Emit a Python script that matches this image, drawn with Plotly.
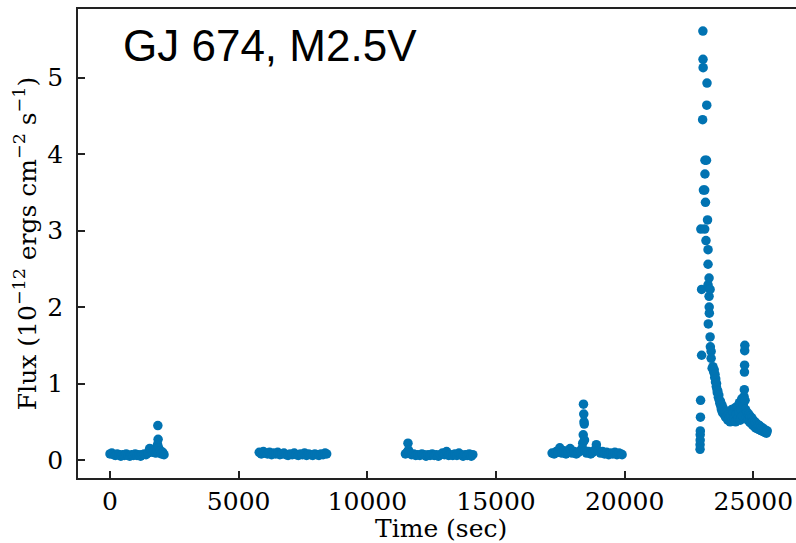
import plotly.graph_objects as go

# ---- data (time in sec, flux in 1e-12 ergs cm^-2 s^-1) ----
t1 = [0, 70, 140, 210, 280, 350, 420, 490, 560, 630, 700, 770, 840, 910, 980,
      1050, 1120, 1190, 1260, 1330, 1400, 1470, 1540, 1600, 1660, 1720, 1780,
      1830, 1850, 1860, 1870, 1890, 1920, 1960, 2000, 2050, 2100]
f1 = [0.08, 0.09, 0.07, 0.06, 0.08, 0.07, 0.05, 0.07, 0.06, 0.08, 0.06, 0.05,
      0.07, 0.06, 0.08, 0.06, 0.07, 0.05, 0.07, 0.08, 0.07, 0.09, 0.15, 0.14,
      0.10, 0.12, 0.09, 0.13, 0.20, 0.45, 0.27, 0.16, 0.10, 0.12, 0.08, 0.10, 0.07]

t2 = [5800, 5880, 5960, 6040, 6120, 6200, 6280, 6360, 6440, 6520, 6600, 6680,
      6760, 6840, 6920, 7000, 7080, 7160, 7240, 7320, 7400, 7480, 7560, 7640,
      7720, 7800, 7880, 7960, 8040, 8120, 8200, 8280, 8360, 8420]
f2 = [0.10, 0.08, 0.11, 0.09, 0.08, 0.10, 0.07, 0.09, 0.08, 0.10, 0.07, 0.08,
      0.09, 0.07, 0.06, 0.08, 0.07, 0.09, 0.07, 0.06, 0.08, 0.07, 0.09, 0.06,
      0.08, 0.07, 0.06, 0.08, 0.07, 0.06, 0.08, 0.07, 0.09, 0.08]

t3 = [11480, 11540, 11580, 11600, 11640, 11720, 11800, 11880, 11960, 12040,
      12120, 12200, 12280, 12360, 12440, 12520, 12600, 12680, 12760, 12840,
      12920, 13000, 13080, 13160, 13240, 13320, 13400, 13480, 13560, 13640,
      13720, 13800, 13880, 13960, 14040, 14100]
f3 = [0.08, 0.10, 0.22, 0.13, 0.09, 0.07, 0.08, 0.06, 0.07, 0.06,
      0.08, 0.07, 0.05, 0.07, 0.06, 0.08, 0.06, 0.07, 0.05, 0.07,
      0.09, 0.07, 0.11, 0.06, 0.07, 0.06, 0.08, 0.06, 0.09, 0.07,
      0.05, 0.07, 0.06, 0.08, 0.05, 0.07]

t4 = [17180, 17260, 17340, 17420, 17480, 17560, 17640, 17720, 17800, 17880,
      17960, 18040, 18120, 18200, 18280, 18340, 18370, 18390, 18400, 18410,
      18420, 18430, 18440, 18460, 18520, 18600, 18680, 18760, 18840, 18900,
      18980, 19060, 19140, 19220, 19300, 19380, 19460, 19540, 19620, 19700,
      19780, 19860, 19900]
f4 = [0.09, 0.08, 0.11, 0.10, 0.16, 0.09, 0.12, 0.08, 0.10, 0.15,
      0.09, 0.11, 0.08, 0.10, 0.12, 0.15, 0.22, 0.33, 0.73, 0.60,
      0.50, 0.47, 0.26, 0.12, 0.09, 0.11, 0.08, 0.10, 0.13, 0.20,
      0.12, 0.09, 0.11, 0.08, 0.10, 0.07, 0.09, 0.08, 0.10, 0.07,
      0.09, 0.08, 0.07]

t5 = [22930, 22930, 22935, 22935, 22940, 22945, 22950, 22960, 22990, 22990,
      23030, 23040, 23045, 23050, 23060, 23110, 23110, 23120, 23120, 23140,
      23160, 23180, 23190, 23200, 23220, 23240, 23240, 23240, 23250, 23280,
      23280, 23285, 23290, 23320, 23320, 23330, 23360, 23360, 23400, 23430,
      23460, 23480, 23500, 23510, 23530, 23540, 23560, 23570, 23590, 23600,
      23620, 23640, 23660, 23680, 23700, 23720, 23740, 23760, 23780, 23800,
      23830, 23860, 23890, 23920, 23950, 23980, 24010, 24040, 24070, 24100,
      24130, 24160, 24190, 24220, 24250, 24280, 24310, 24340, 24370, 24400,
      24430, 24460, 24490, 24520, 24550, 24580, 24610, 24640, 24650, 24655,
      24660, 24665, 24670, 24680, 24700, 24730, 24760, 24790, 24820, 24850,
      24880, 24910, 24940, 24970, 25000, 25030, 25060, 25090, 25120, 25150,
      25180, 25210, 25240, 25270, 25300, 25330, 25360, 25390, 25420, 25450,
      25480, 25510, 25540]
f5 = [0.14, 0.20, 0.26, 0.33, 0.38, 0.56, 0.78, 3.02, 1.37, 2.23,
      4.45, 5.61, 5.24, 5.13, 3.53, 3.53, 3.02, 3.74, 3.92, 3.37,
      2.87, 3.92, 4.64, 4.93, 3.14, 2.75, 2.56, 2.29, 1.78, 2.38,
      2.14, 2.00, 1.92, 2.23, 1.61, 1.48, 1.42, 1.33, 1.20, 1.22,
      1.15, 1.18, 1.08, 1.12, 1.02, 1.06, 0.96, 1.00, 0.92, 0.88,
      0.90, 0.82, 0.85, 0.78, 0.74, 0.77, 0.70, 0.66, 0.72, 0.62,
      0.68, 0.60, 0.64, 0.56, 0.62, 0.58, 0.52, 0.60, 0.55, 0.50,
      0.58, 0.66, 0.52, 0.62, 0.55, 0.68, 0.50, 0.60, 0.70, 0.54,
      0.64, 0.75, 0.52, 0.66, 0.80, 0.58, 0.72, 0.83, 0.92, 1.15,
      1.24, 1.43, 1.50, 0.78, 0.66, 0.56, 0.62, 0.52, 0.60, 0.50,
      0.57, 0.48, 0.55, 0.46, 0.52, 0.44, 0.50, 0.42, 0.48, 0.41,
      0.46, 0.40, 0.45, 0.39, 0.43, 0.38, 0.42, 0.37, 0.40, 0.36,
      0.39, 0.35, 0.38]

x_ticks = [0, 5000, 10000, 15000, 20000, 25000]
y_ticks = [0, 1, 2, 3, 4, 5]
title_text = "GJ 674, M2.5V"
x_label = "Time (sec)"
y_label = "Flux (10<sup>\u221212</sup> ergs cm<sup>\u22122</sup> s<sup>\u22121</sup>)"

times = t1 + t2 + t3 + t4 + t5
flux = f1 + f2 + f3 + f4 + f5

COLOR = "#0173b2"
AX = "#222222"
SERIF = "DejaVu Serif"
L, R, T, B, W, H = 78, 0, 9, 65, 796, 543
PW, PH = W - L - R, H - T - B

fig = go.Figure()
fig.add_trace(go.Scatter(
    x=times, y=flux, mode="markers",
    marker=dict(color=COLOR, size=9.5, line=dict(width=0)),
    showlegend=False,
))

fig.update_layout(
    width=W, height=H,
    margin=dict(l=L, r=R, t=T, b=B),
    plot_bgcolor="white", paper_bgcolor="white",
    showlegend=False,
)

fig.update_xaxes(
    range=[-1243, 26658],
    tickvals=x_ticks, ticktext=[str(v) for v in x_ticks],
    ticks="inside", ticklen=7, tickwidth=1.5, tickcolor=AX,
    showline=True, linecolor=AX, linewidth=1.6, mirror=True,
    showgrid=False, zeroline=False,
    tickfont=dict(family=SERIF, size=25, color="black"),
    ticklabelstandoff=0,
)
fig.update_yaxes(
    range=[-0.2354, 5.898],
    tickvals=y_ticks, ticktext=[str(v) for v in y_ticks],
    ticks="inside", ticklen=7, tickwidth=1.5, tickcolor=AX,
    showline=True, linecolor=AX, linewidth=1.6, mirror=False,
    showgrid=False, zeroline=False,
    tickfont=dict(family=SERIF, size=25, color="black"),
    ticklabelstandoff=8,
    title=dict(text=y_label, font=dict(family=SERIF, size=25, color="black"), standoff=4),
)

fig.add_annotation(
    text=x_label, xref="paper", yref="paper",
    x=(441 - L) / PW, y=(H - B - 528) / PH,
    xanchor="center", yanchor="middle", showarrow=False,
    font=dict(family=SERIF, size=25, color="black"),
)

fig.add_annotation(
    text=title_text, xref="paper", yref="paper",
    x=(121 - L) / PW, y=(H - B - 46) / PH,
    xanchor="left", yanchor="middle", showarrow=False,
    font=dict(family="Liberation Sans", size=44, color="black"),
)

fig.write_html("out.html")
